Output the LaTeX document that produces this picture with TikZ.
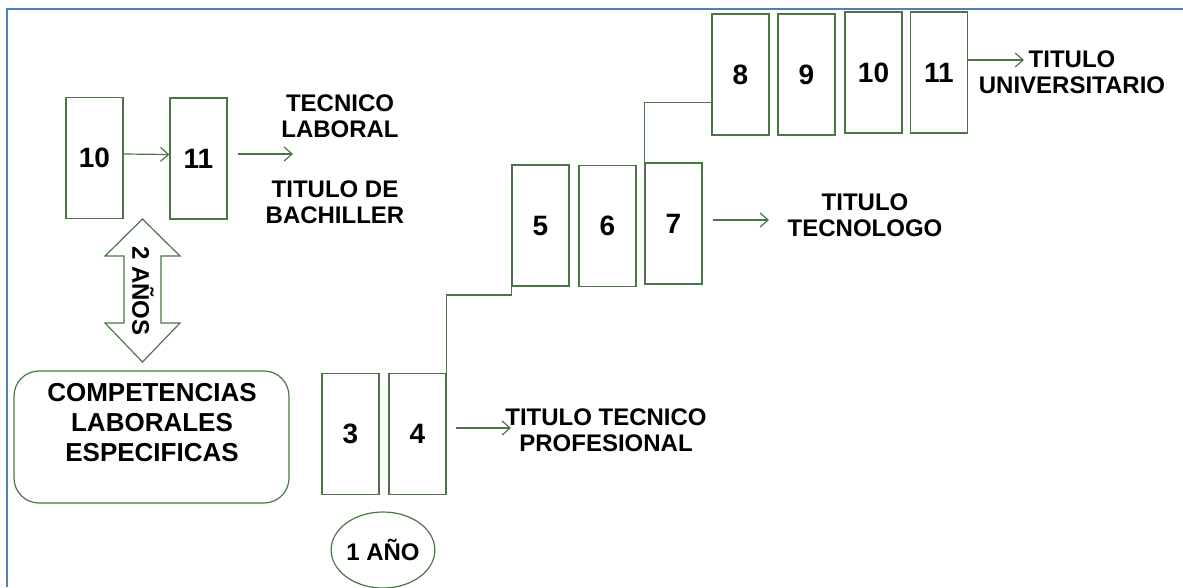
\documentclass[tikz,border=0pt]{standalone}
\usepackage{fontspec}
\setmainfont{Liberation Sans}
\usetikzlibrary{arrows.meta,shapes.geometric}
\definecolor{gline}{HTML}{4A7845}
\definecolor{bline}{HTML}{4F81BD}
\begin{document}
\begin{tikzpicture}[x=1pt,y=-1pt,
  yr/.style={draw=gline,line width=1.2pt,minimum width=57pt,minimum height=121pt,inner sep=0pt,font=\bfseries\fontsize{28}{30}\selectfont},
  lbl/.style={align=center,font=\bfseries\fontsize{24}{26}\selectfont,inner sep=0pt},
  conn/.style={draw=gline,line width=1.2pt},
  arr/.style={conn,-{Straight Barb[length=8pt,width=14pt]}}]
\useasboundingbox (0,0) rectangle (1183,587);
\draw[bline,line width=2.5pt] (7,587) -- (7,9) -- (1183,9);
% left group
\node[yr] (a10) at (94.5,158) {10};
\node[yr] (a11) at (198.5,158.5) {11};
\draw[arr] ([yshift=4pt]a10.east) -- ([yshift=4pt]a11.west);
\coordinate (e1) at (293,154);
\draw[arr] ([xshift=10pt,yshift=4.5pt]a11.east) -- (e1);
\node[lbl] (tl) at (340,116) {TECNICO\\LABORAL};
\node[lbl] (tb) at (335,202) {TITULO DE\\BACHILLER};
% double arrow
\draw[conn,line join=miter] (142.5,219) -- (180,256) -- (161,256) -- (161,323) -- (180,323) -- (142.5,362) -- (105,323) -- (124,323) -- (124,256) -- (105,256) -- cycle;
\node[lbl,rotate=-90] (anos) at (143,291) {2 AÑOS};
% competencias
\node[draw=gline,line width=1.2pt,rounded corners=25pt,minimum width=275pt,minimum height=132pt] (comp) at (151.5,437) {};
\node[lbl,font=\bfseries\fontsize{26}{30}\selectfont] (compt) at (152,423) {COMPETENCIAS\\LABORALES\\ESPECIFICAS};
% technical
\node[yr] (b3) at (350.5,434) {3};
\node[yr] (b4) at (417.5,434) {4};
\node[draw=gline,line width=1.2pt,ellipse,minimum width=87pt,minimum height=76pt,lbl] (uno) at (383,550) {1 AÑO};
\coordinate (e2) at (511,428);
\draw[arr] ([xshift=9pt,yshift=6pt]b4.east) -- (e2);
\node[lbl] (tp) at (606,430) {TITULO TECNICO\\PROFESIONAL};
% technologist
\node[yr] (b5) at (540.5,225.5) {5};
\node[yr] (b6) at (607.5,226) {6};
\node[yr] (b7) at (673.5,223.5) {7};
\draw[conn] (b4.north east) -- ++(0,-78) -| (b5.south west);
\coordinate (e3) at (769,220);
\draw[arr] ([xshift=10pt,yshift=3.5pt]b7.east) -- (e3);
\node[lbl] (tt) at (865,215) {TITULO\\TECNOLOGO};
% university
\node[yr] (c8) at (740.5,74.5) {8};
\node[yr] (c9) at (806.5,74.5) {9};
\node[yr] (c10) at (873.5,72.5) {10};
\node[yr] (c11) at (939,72.5) {11};
\draw[conn] (b7.north west) |- ([yshift=33pt]c8.south west);
\coordinate (e4) at (1024,60);
\draw[arr] ([yshift=12.5pt]c11.east) -- (e4);
\node[lbl] (tu) at (1072,72) {TITULO\\UNIVERSITARIO};
\end{tikzpicture}
\end{document}
